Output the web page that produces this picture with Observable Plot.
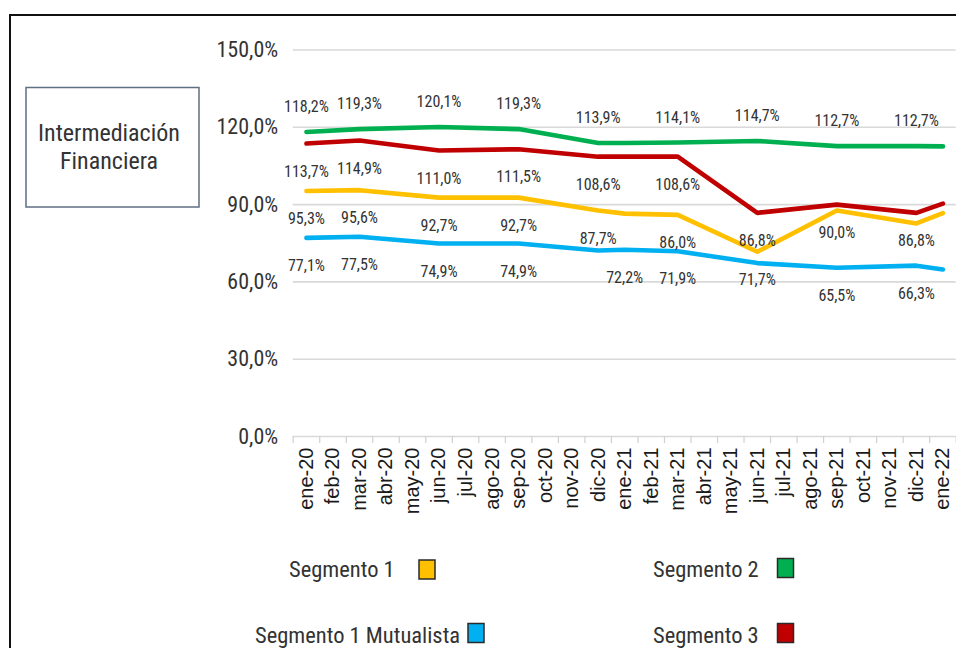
<!DOCTYPE html>
<html>
<head>
<meta charset="utf-8">
<script src="https://cdn.jsdelivr.net/npm/d3@7"></script>
<script src="https://cdn.jsdelivr.net/npm/@observablehq/plot@0.6"></script>
<style>
  html, body { margin: 0; padding: 0; background: #fff; }
  #wrap { position: relative; width: 956px; height: 648px; overflow: hidden; background: #fff; }
  #frame { position: absolute; left: 9px; top: 14px; width: 1000px; height: 700px;
           border-top: 2.5px solid #111; border-left: 2.5px solid #111; }
  #chart { position: absolute; left: 0; top: 0; }
  #overlay { position: absolute; left: 0; top: 0; pointer-events: none; }
</style>
</head>
<body>
<div id="wrap">
  <div id="frame"></div>
  <div id="chart"></div>
  <svg id="overlay" width="956" height="648"></svg>
</div>
<script>
const NARROW = '"Liberation Sans Narrow", "Arial Narrow", "Roboto Condensed", "DejaVu Sans Condensed", sans-serif';
const REG = '"Liberation Sans", Arial, sans-serif';
const NW = 400;
const TXT = "#333333";

// ---- data ----
const months = ["ene-20","feb-20","mar-20","abr-20","may-20","jun-20","jul-20","ago-20","sep-20","oct-20","nov-20","dic-20",
                "ene-21","feb-21","mar-21","abr-21","may-21","jun-21","jul-21","ago-21","sep-21","oct-21","nov-21","dic-21","ene-22"];
const pointMonths = ["ene-20","mar-20","jun-20","sep-20","dic-20","ene-21","mar-21","jun-21","sep-21","dic-21","ene-22"];
const seriesNames = ["Segmento 1","Segmento 2","Segmento 1 Mutualista","Segmento 3"];
const seriesColors = ["#ffc000","#00b050","#00b0f0","#c00000"];
const segmento1           = [95.3, 95.6, 92.7, 92.7, 87.7, 86.5, 86.0, 71.7, 87.7, 82.7, 86.7];
const segmento2           = [118.2, 119.3, 120.1, 119.3, 113.9, 113.9, 114.1, 114.7, 112.7, 112.7, 112.6];
const segmento1Mutualista = [77.1, 77.5, 74.9, 74.9, 72.2, 72.5, 71.9, 67.3, 65.5, 66.3, 64.8];
const segmento3           = [113.7, 114.9, 111.0, 111.5, 108.6, 108.6, 108.6, 86.8, 90.0, 86.8, 90.4];
const yTicks = [0, 30, 60, 90, 120, 150];

// data labels: [month, series, text]
const labelRows = [
  ["ene-20","Segmento 2","118,2%"],["ene-20","Segmento 3","113,7%"],["ene-20","Segmento 1","95,3%"],["ene-20","Segmento 1 Mutualista","77,1%"],
  ["mar-20","Segmento 2","119,3%"],["mar-20","Segmento 3","114,9%"],["mar-20","Segmento 1","95,6%"],["mar-20","Segmento 1 Mutualista","77,5%"],
  ["jun-20","Segmento 2","120,1%"],["jun-20","Segmento 3","111,0%"],["jun-20","Segmento 1","92,7%"],["jun-20","Segmento 1 Mutualista","74,9%"],
  ["sep-20","Segmento 2","119,3%"],["sep-20","Segmento 3","111,5%"],["sep-20","Segmento 1","92,7%"],["sep-20","Segmento 1 Mutualista","74,9%"],
  ["dic-20","Segmento 2","113,9%"],["dic-20","Segmento 3","108,6%"],["dic-20","Segmento 1","87,7%"],
  ["ene-21","Segmento 1 Mutualista","72,2%"],
  ["mar-21","Segmento 2","114,1%"],["mar-21","Segmento 3","108,6%"],["mar-21","Segmento 1","86,0%"],["mar-21","Segmento 1 Mutualista","71,9%"],
  ["jun-21","Segmento 2","114,7%"],["jun-21","Segmento 3","86,8%"],["jun-21","Segmento 1","71,7%"],
  ["sep-21","Segmento 2","112,7%"],["sep-21","Segmento 3","90,0%"],["sep-21","Segmento 1 Mutualista","65,5%"],
  ["dic-21","Segmento 2","112,7%"],["dic-21","Segmento 3","86,8%"],["dic-21","Segmento 1 Mutualista","66,3%"]
];

// ---- build tables ----
const valuesBySeries = {
  "Segmento 1": segmento1, "Segmento 2": segmento2,
  "Segmento 1 Mutualista": segmento1Mutualista, "Segmento 3": segmento3
};
const drawOrder = ["Segmento 1 Mutualista","Segmento 1","Segmento 3","Segmento 2"];
const data = [];
for (const s of drawOrder) {
  pointMonths.forEach((m, k) => data.push({s, i: months.indexOf(m), v: valuesBySeries[s][k]}));
}
const pts = pointMonths.map(pm => months.indexOf(pm));
const labels = labelRows.map(([m, s, t]) => {
  const i = months.indexOf(m);
  const k = pts.indexOf(i);
  return {i, s, t, v: valuesBySeries[s][k], up: s === "Segmento 2"};
});
const idx = months.map((_, i) => i);
const bounds = d3.range(months.length + 1).map(i => i - 0.5);
const fmtPct = d => d.toFixed(1).replace(".", ",") + "%";

const chart = Plot.plot({
  width: 956,
  height: 648,
  marginLeft: 292.7,
  marginRight: 0.3,
  marginTop: 49.5,
  marginBottom: 212,
  style: {background: "transparent", overflow: "visible"},
  x: {type: "linear", domain: [-0.5, 24.5]},
  y: {domain: [0, 150]},
  color: {domain: seriesNames, range: seriesColors},
  marks: [
    Plot.gridY(yTicks, {stroke: "#d9d9d9", strokeOpacity: 1, strokeWidth: 1.6}),
    Plot.axisY(yTicks, {tickSize: 0, tickPadding: 15, tickFormat: fmtPct, fontSize: 22,
                        fontFamily: NARROW, fontWeight: NW, fill: TXT, label: null}),
    Plot.ruleX(bounds, {x: d => d, y1: 0, y2: -2.75, stroke: "#d0d0d0", strokeWidth: 1.2}),
    Plot.axisX(idx, {tickSize: 0, tickPadding: 11, tickRotate: -90, tickFormat: i => months[i],
                     fontSize: 20, fontFamily: REG, fill: "#1a1a1a", label: null}),
    Plot.lineY(data, {x: "i", y: "v", z: "s", stroke: "s", strokeWidth: 4.6, strokeLinejoin: "round", strokeLinecap: "round"}),
    Plot.text(labels.filter(d => d.up), {x: "i", y: "v", text: "t", dy: -25, fontSize: 16, fontFamily: NARROW, fontWeight: NW, fill: TXT}),
    Plot.text(labels.filter(d => !d.up), {x: "i", y: "v", text: "t", dy: 28, fontSize: 16, fontFamily: NARROW, fontWeight: NW, fill: TXT})
  ]
});
document.getElementById("chart").appendChild(chart);

// ---- overlay: title box and legend ----
const ov = d3.select("#overlay");
ov.append("rect").attr("x", 26).attr("y", 87.5).attr("width", 173).attr("height", 119.5)
  .attr("fill", "#fff").attr("stroke", "#5f6f84").attr("stroke-width", 1.5);
const tt = ov.append("text").attr("text-anchor", "middle").attr("font-family", NARROW)
  .attr("font-weight", NW).attr("font-size", 24).attr("fill", TXT);
tt.append("tspan").attr("x", 109).attr("y", 141).text("Intermediación");
tt.append("tspan").attr("x", 109).attr("y", 169).text("Financiera");

const legendItems = [
  {name: "Segmento 1", tx: 289, ty: 577, sx: 419, sy: 560},
  {name: "Segmento 2", tx: 653, ty: 577, sx: 777.5, sy: 558.5},
  {name: "Segmento 1 Mutualista", tx: 255, ty: 643, sx: 468, sy: 623.5},
  {name: "Segmento 3", tx: 653, ty: 643, sx: 777.5, sy: 623.5}
];
for (const it of legendItems) {
  ov.append("text").attr("x", it.tx).attr("y", it.ty).attr("font-family", NARROW)
    .attr("font-weight", NW).attr("font-size", 22.5).attr("fill", TXT).text(it.name);
  ov.append("rect").attr("x", it.sx).attr("y", it.sy).attr("width", 16).attr("height", 19)
    .attr("fill", seriesColors[seriesNames.indexOf(it.name)]).attr("stroke", "#2a2a2a").attr("stroke-width", 1.5);
}
</script>
</body>
</html>
